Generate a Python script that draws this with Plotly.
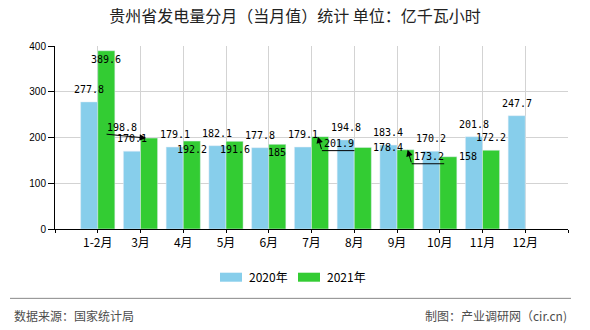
import plotly.graph_objects as go

categories = ["1-2月", "3月", "4月", "5月", "6月", "7月", "8月", "9月", "10月", "11月", "12月"]
values_2020 = [277.8, 170.1, 179.1, 182.1, 177.8, 179.1, 194.8, 183.4, 170.2, 201.8, 247.7]
values_2021 = [389.6, 198.8, 192.2, 191.6, 185, 201.9, 178.4, 173.2, 158, 172.2, None]
series_names = ["2020年", "2021年"]
y_ticks = [0, 100, 200, 300, 400]

color_2020 = "#87CEEB"
color_2021 = "#33CC33"
label_font = dict(family="DejaVu Sans Mono", size=10, color="#000000")

idx = list(range(len(categories)))

fig = go.Figure()
fig.add_trace(go.Bar(x=idx, y=values_2020, name=series_names[0], marker_color=color_2020,
                     width=0.4, offset=-0.4, hoverinfo="skip", showlegend=False))
fig.add_trace(go.Bar(x=idx, y=values_2021, name=series_names[1], marker_color=color_2021,
                     width=0.4, offset=0.0, hoverinfo="skip", showlegend=False))

annotations = []
style_2021 = ["inside", "arrow_left", "inside", "inside", "inside", "arrow_right",
              "right", "arrow_right", "right", "above", None]

for i, v in enumerate(values_2020):
    annotations.append(dict(x=i - 0.2, y=v, xref="x", yref="y", text=str(v),
                            showarrow=False, yshift=12.5, font=label_font))

arrow_common = dict(xref="x", yref="y", text="", showarrow=True, arrowsize=1.3,
                    arrowwidth=1, arrowcolor="#000000")

for i, v in enumerate(values_2021):
    if v is None:
        continue
    s = style_2021[i]
    txt = str(v)
    if s == "inside":
        annotations.append(dict(x=i + 0.2, y=v, xref="x", yref="y", text=txt,
                                showarrow=False, yshift=-8.5, font=label_font))
    elif s == "above":
        annotations.append(dict(x=i + 0.2, y=v, xref="x", yref="y", text=txt,
                                showarrow=False, yshift=12.5, font=label_font))
    elif s == "right":
        annotations.append(dict(x=i + 0.4, y=v, xref="x", yref="y", text=txt,
                                showarrow=False, xanchor="left", font=label_font))
    elif s == "arrow_left":
        tip = i + 0.13
        annotations.append(dict(x=tip, y=v, ax=-41, ay=-4, arrowhead=2, **arrow_common))
        annotations.append(dict(x=tip, y=v, xref="x", yref="y", text=txt,
                                showarrow=False, xshift=-24, yshift=11, font=label_font))
    elif s == "arrow_right":
        tip = i + 0.15 if i == 5 else i + 0.25
        annotations.append(dict(x=tip, y=v, ax=4, ay=14, arrowhead=2, **arrow_common))
        annotations.append(dict(x=tip, y=v, ax=34, ay=0, arrowhead=0,
                                xshift=4, yshift=-14, **arrow_common))
        annotations.append(dict(x=tip, y=v, xref="x", yref="y", text=txt,
                                showarrow=False, xshift=21, yshift=-7, font=label_font))

# custom legend (swatches + labels)
shapes = []
legend_items = [(series_names[0], color_2020, 0.3216), (series_names[1], color_2021, 0.4737)]
for name, col, x0 in legend_items:
    shapes.append(dict(type="rect", xref="paper", yref="paper", x0=x0, x1=x0 + 0.0429,
                       y0=-0.288, y1=-0.2388, fillcolor=col, line=dict(width=0)))
    annotations.append(dict(x=x0 + 0.0527, y=-0.2607, xref="paper", yref="paper",
                            text=name, showarrow=False, xanchor="left", yanchor="middle",
                            font=dict(family="Noto Sans CJK SC", size=12, color="#000000")))

annotations.append(dict(x=-0.0844, y=-0.475, xref="paper", yref="paper",
                        text="数据来源：国家统计局", showarrow=False, xanchor="left",
                        yanchor="middle",
                        font=dict(family="Noto Sans CJK SC", size=12, color="#4d4d4d")))
annotations.append(dict(x=1.002, y=-0.475, xref="paper", yref="paper",
                        text="制图：产业调研网（cir.cn)", showarrow=False, xanchor="right",
                        yanchor="middle",
                        font=dict(family="Noto Sans CJK SC", size=12, color="#4d4d4d")))

shapes.append(dict(type="line", xref="paper", yref="paper", x0=-0.0877, x1=1.0058,
                   y0=-0.379, y1=-0.379, line=dict(color="#888888", width=1)))

tickvals = [-1] + idx + [len(categories)]
ticktext = [""] + categories + [""]

fig.update_layout(
    width=590, height=330,
    margin=dict(l=55, r=22, t=46, b=101),
    paper_bgcolor="white", plot_bgcolor="white",
    title=dict(text="贵州省发电量分月（当月值）统计 单位：亿千瓦小时",
               x=0.5, xanchor="center", y=1 - 16 / 330, yanchor="middle",
               font=dict(family="Noto Sans CJK SC", size=16, color="#222222")),
    xaxis=dict(range=[-1, len(categories)], tickmode="array", tickvals=tickvals,
               ticktext=ticktext, showgrid=True, gridcolor="#d3d3d3", gridwidth=1,
               showline=True, linecolor="#000000", linewidth=1,
               ticks="outside", ticklen=3, tickcolor="#000000", zeroline=False,
               tickfont=dict(family="Noto Sans CJK SC", size=12, color="#000000")),
    yaxis=dict(range=[0, 400], tickmode="array", tickvals=y_ticks,
               showgrid=True, gridcolor="#d3d3d3", gridwidth=1,
               showline=True, linecolor="#000000", linewidth=1,
               ticks="outside", ticklen=6, tickcolor="#000000", zeroline=False,
               tickfont=dict(family="Liberation Sans", size=10, color="#000000")),
    annotations=annotations,
    shapes=shapes,
    showlegend=False,
)

fig.write_html("out.html")
